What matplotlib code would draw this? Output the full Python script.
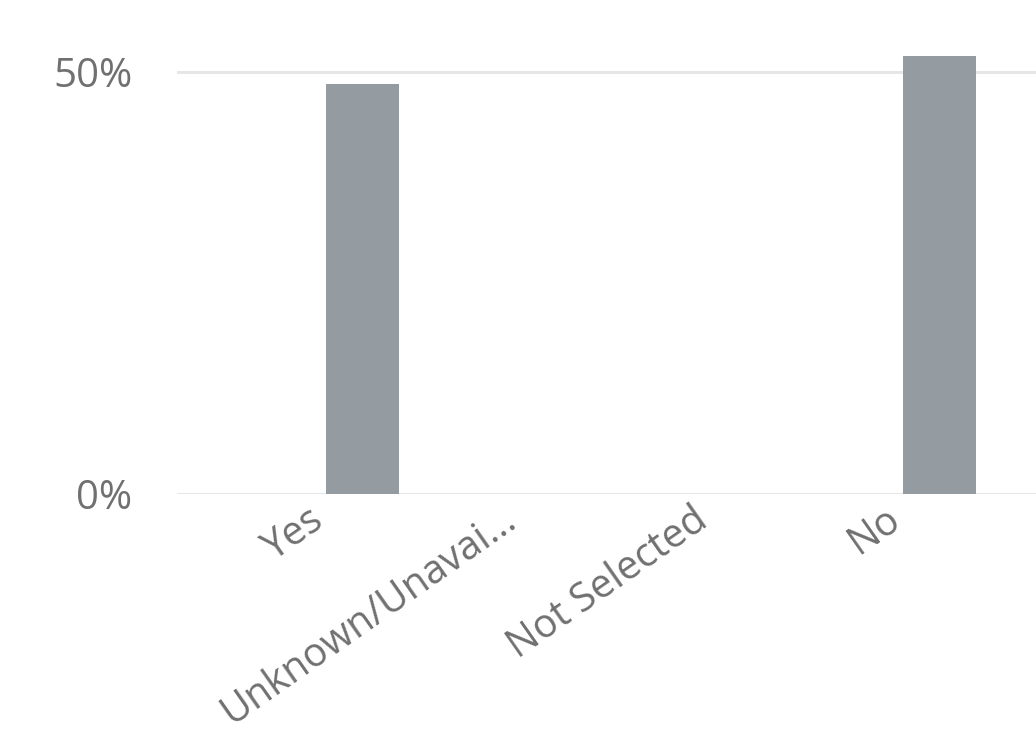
import matplotlib
matplotlib.use("Agg")
import matplotlib.pyplot as plt
import matplotlib.transforms as mtransforms
import numpy as np

categories = ["Yes", "Unknown/Unavai...", "Not Selected", "No"]
values = [48.6, 0, 0, 51.9]
yticks = [0, 50]
ytick_labels = ["0%", "50%"]

plt.rcParams['font.family'] = ['Open Sans', 'DejaVu Sans']

fig = plt.figure(figsize=(10.36, 7.32), dpi=100)
ax = fig.add_axes([177/1036, 1-494/732, 1-177/1036, (494-30)/732])

x = np.arange(len(categories))
ax.bar(x, values, width=0.38, color="#949ba1", zorder=3)

ax.set_xlim(-0.967, 3.5)
ax.set_ylim(0, 55)
ax.set_yticks(yticks)
ax.set_yticklabels(ytick_labels, fontsize=29, color="#707070")
ax.yaxis.grid(True, color="#e6e6e6", linewidth=2.2, zorder=0)
ax.set_axisbelow(True)
ax.tick_params(axis="y", length=0, pad=32)

ax.set_xticks(x)
ax.set_xticklabels(categories, fontsize=28.5, color="#707070", rotation=35,
                   ha="right", va="top", rotation_mode="anchor")
ax.tick_params(axis="x", length=0, pad=4)
offset = mtransforms.ScaledTranslation(-55/100, 0, fig.dpi_scale_trans)
for lab in ax.get_xticklabels():
    lab.set_transform(lab.get_transform() + offset)

for s in ax.spines.values():
    s.set_visible(False)

fig.savefig("out.png", dpi=100)
